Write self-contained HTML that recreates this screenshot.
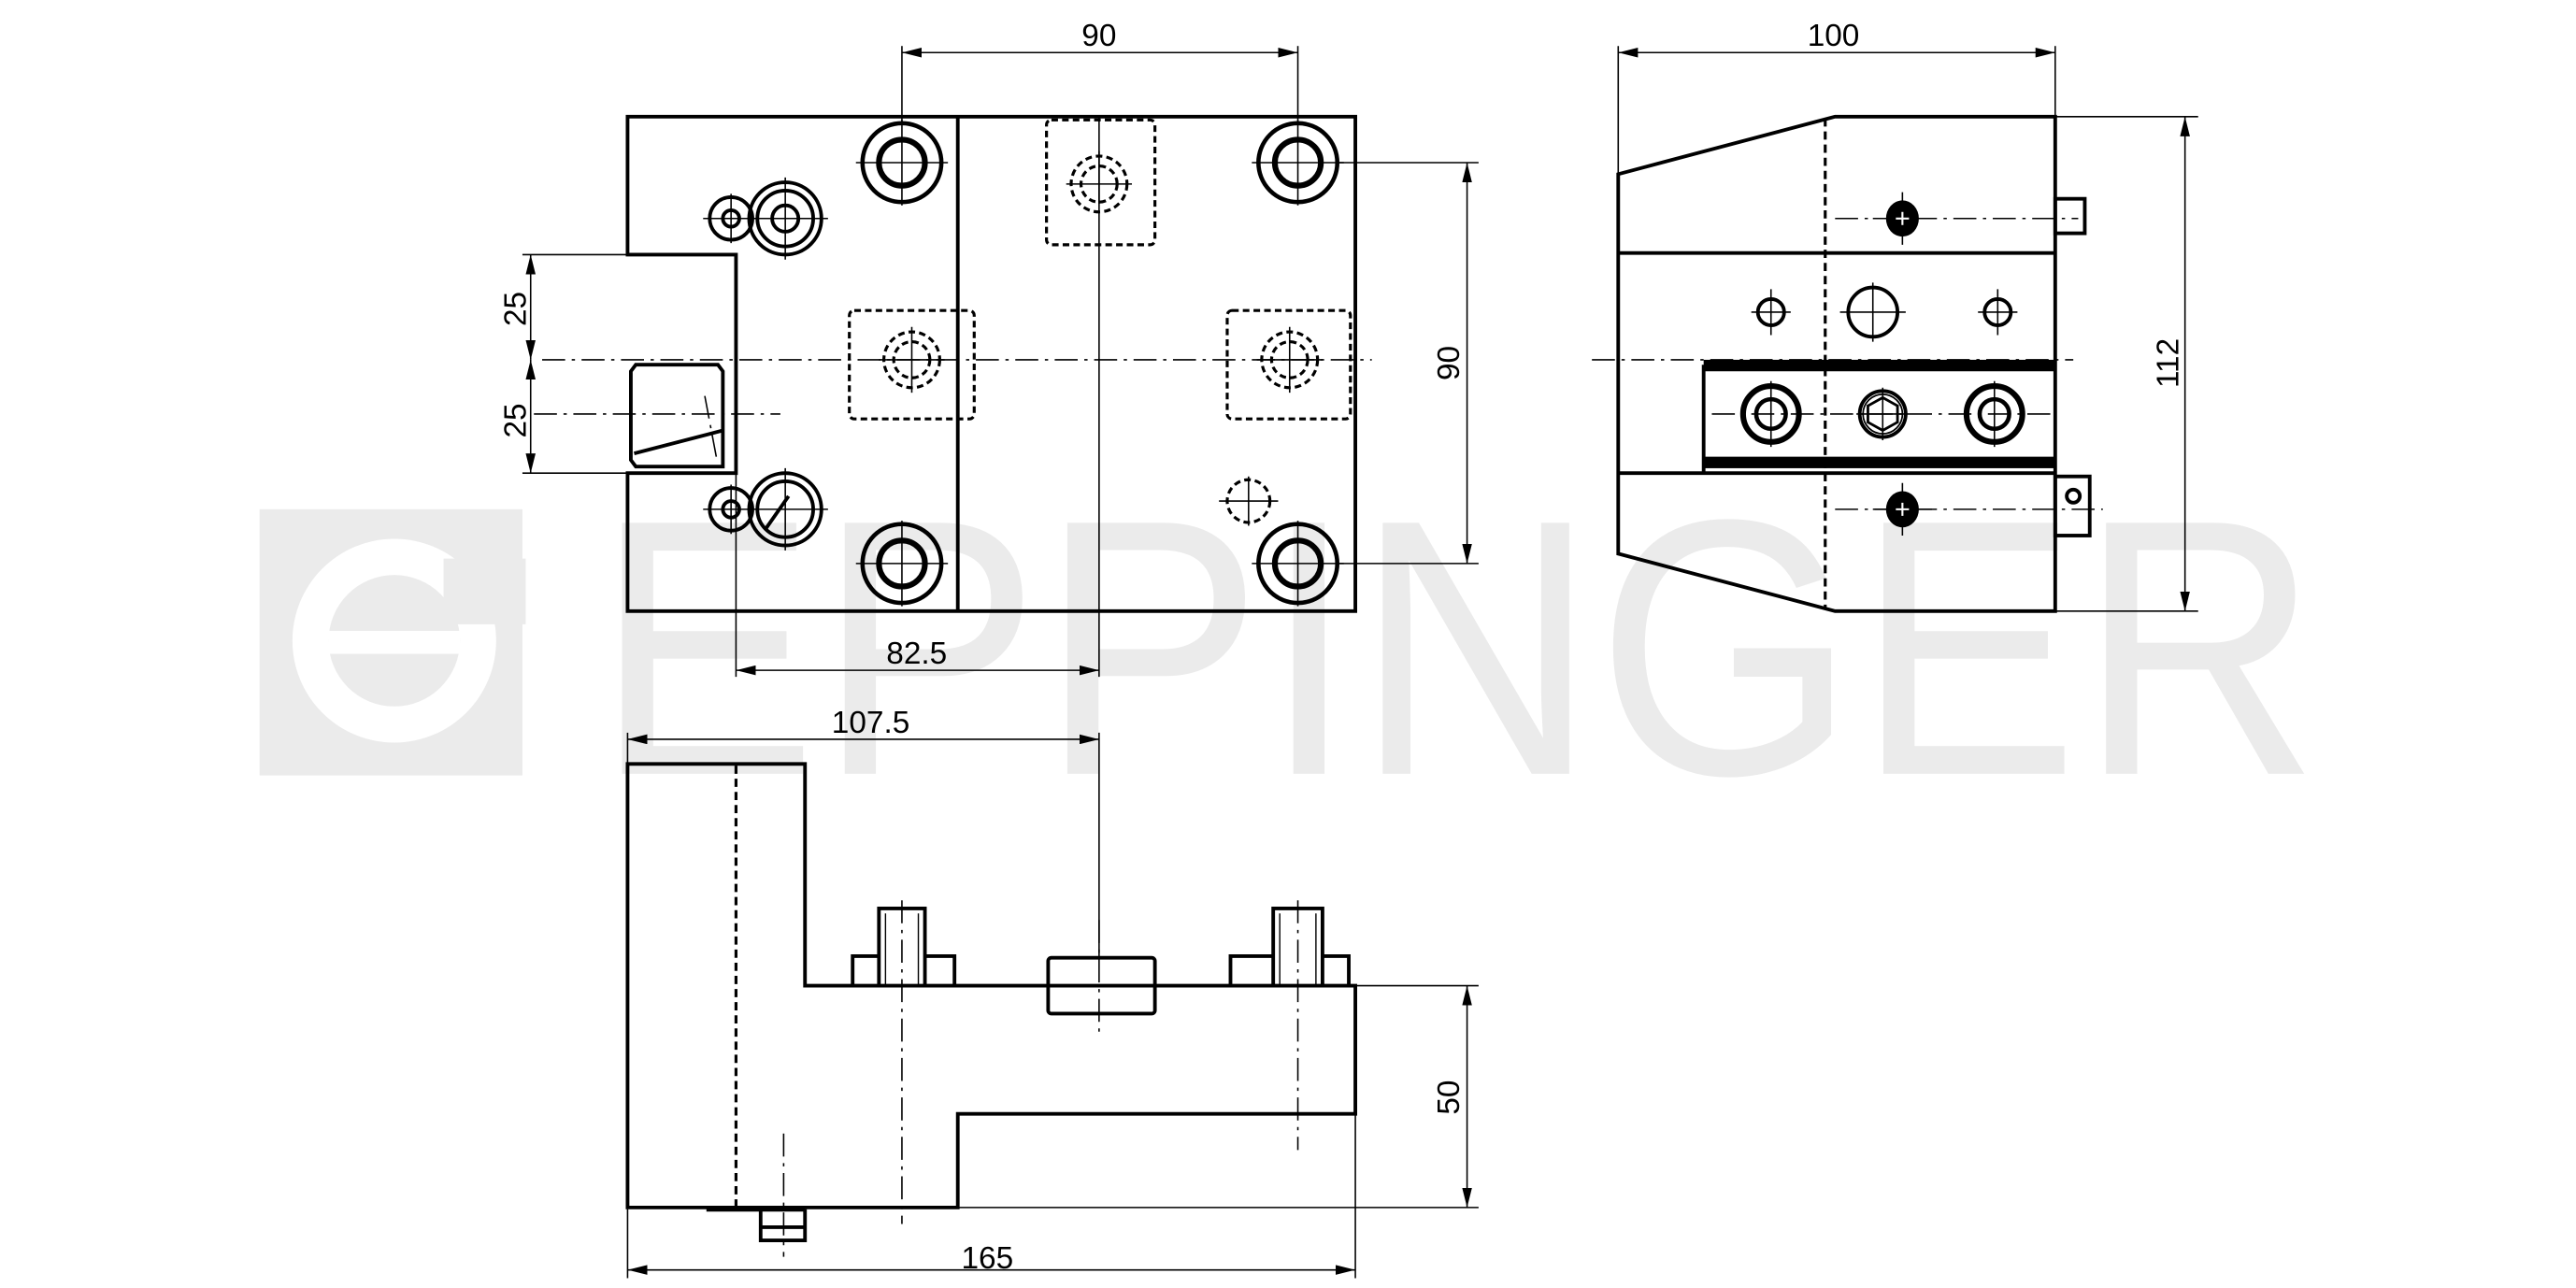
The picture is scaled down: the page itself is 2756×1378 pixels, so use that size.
<!DOCTYPE html>
<html><head><style>html,body{margin:0;padding:0;background:#fff}svg{display:block}</style></head><body>
<svg width="2756" height="1378" viewBox="0 0 1568 784" preserveAspectRatio="none" xmlns="http://www.w3.org/2000/svg" font-family="Liberation Sans, sans-serif">
<defs>
<marker id="a" viewBox="0 0 12 6" refX="12" refY="3" markerWidth="12" markerHeight="6" markerUnits="userSpaceOnUse" orient="auto-start-reverse"><path d="M0,0 L12,3 L0,6 z" fill="#000"/></marker>
</defs>
<!-- watermark -->
<g fill="#ebebeb">
<rect x="158" y="310" width="160" height="162"/>
<circle cx="240" cy="390" r="62" fill="#fff"/>
<circle cx="240" cy="390" r="40" fill="#ebebeb"/>
<rect x="200" y="384" width="80" height="14" fill="#fff"/>
<rect x="270" y="340" width="50" height="40" fill="#ebebeb"/>
<text x="362" y="471" font-size="222" textLength="1050" lengthAdjust="spacingAndGlyphs">EPPINGER</text>
</g>
<g fill="none" stroke="#000" stroke-width="2.2">
<!-- FRONT VIEW -->
<path d="M448,155 L382,155 L382,71 L825,71 L825,372 L382,372 L382,288 L448,288 Z"/>
<line x1="583" y1="71" x2="583" y2="372"/>
<path d="M387,222 L437,222 L440,226 L440,284 L387,284 L384,280 L384,226 Z"/>
<line x1="386" y1="276" x2="440" y2="262"/>
<g stroke-width="2.6">
<circle cx="549" cy="99" r="24"/><circle cx="549" cy="99" r="14" stroke-width="3.5"/>
<circle cx="790" cy="99" r="24"/><circle cx="790" cy="99" r="14" stroke-width="3.5"/>
<circle cx="549" cy="343" r="24"/><circle cx="549" cy="343" r="14" stroke-width="3.5"/>
<circle cx="790" cy="343" r="24"/><circle cx="790" cy="343" r="14" stroke-width="3.5"/>
</g>
<circle cx="445" cy="133" r="13"/><circle cx="445" cy="133" r="5"/>
<circle cx="478" cy="133" r="22"/><circle cx="478" cy="133" r="17"/><circle cx="478" cy="133" r="8"/>
<circle cx="445" cy="310" r="13"/><circle cx="445" cy="310" r="5"/>
<circle cx="478" cy="310" r="22"/><circle cx="478" cy="310" r="17"/><line x1="466" y1="322" x2="480" y2="302"/>
<g stroke-dasharray="4,2.5" stroke-width="1.8">
<rect x="637" y="73" width="66" height="76" rx="3"/>
<circle cx="669" cy="112" r="17"/><circle cx="669" cy="112" r="11"/>
<rect x="517" y="189" width="76" height="66" rx="3"/>
<circle cx="555" cy="219" r="17"/><circle cx="555" cy="219" r="11"/>
<rect x="747" y="189" width="75" height="66" rx="3"/>
<circle cx="785" cy="219" r="17"/><circle cx="785" cy="219" r="11"/>
<circle cx="760" cy="305" r="13"/>
</g>
<!-- SIDE VIEW -->
<path d="M985,106 L1117,71 L1251,71 L1251,372 L1117,372 L985,337 Z"/>
<line x1="1111" y1="72" x2="1111" y2="371" stroke-dasharray="5,3" stroke-width="1.8"/>
<line x1="985" y1="154" x2="1251" y2="154"/>
<line x1="985" y1="288" x2="1251" y2="288"/>
<line x1="1037" y1="222" x2="1037" y2="288"/>
<rect x="1037" y="219" width="214" height="7" fill="#000" stroke="none"/>
<rect x="1037" y="278" width="214" height="7" fill="#000" stroke="none"/>
<rect x="1251" y="121" width="18" height="21"/>
<rect x="1251" y="290" width="21" height="36"/>
<circle cx="1262" cy="302" r="4"/>
<circle cx="1078" cy="190" r="8"/><circle cx="1140" cy="190" r="15"/><circle cx="1216" cy="190" r="8"/>
<circle cx="1078" cy="252" r="17" stroke-width="3.5"/><circle cx="1078" cy="252" r="9" stroke-width="2.6"/>
<circle cx="1214" cy="252" r="17" stroke-width="3.5"/><circle cx="1214" cy="252" r="9" stroke-width="2.6"/>
<circle cx="1146" cy="252" r="14"/><circle cx="1146" cy="252" r="12" stroke-width="1"/>
<path d="M1146,242 L1155,247 L1155,257 L1146,262 L1137,257 L1137,247 Z" stroke-width="1.6"/>
<!-- BOTTOM VIEW -->
<path d="M382,465 L490,465 L490,600 L825,600 L825,678 L583,678 L583,735 L382,735 Z"/>
<line x1="448" y1="466" x2="448" y2="734" stroke-dasharray="5,3" stroke-width="1.8"/>
<path d="M519,600 L519,582 L535,582 M563,582 L581,582 L581,600"/>
<path d="M535,600 L535,553 L563,553 L563,600"/>
<line x1="539" y1="556" x2="539" y2="600" stroke-width="0.8"/>
<line x1="559" y1="556" x2="559" y2="600" stroke-width="0.8"/>
<path d="M749,600 L749,582 L775,582 M805,582 L821,582 L821,600"/>
<path d="M775,600 L775,553 L805,553 L805,600"/>
<line x1="779" y1="556" x2="779" y2="600" stroke-width="0.8"/>
<line x1="801" y1="556" x2="801" y2="600" stroke-width="0.8"/>
<rect x="638" y="583" width="65" height="34" rx="2"/>
<path d="M463,736 L463,755 L490,755 L490,736"/>
<line x1="463" y1="747" x2="490" y2="747"/>
<line x1="430" y1="736" x2="490" y2="736" stroke-width="3"/>
</g>
<!-- thin lines: center lines & dims -->
<g fill="none" stroke="#000" stroke-width="0.9">
<g stroke-dasharray="14,4,2,4">
<line x1="330" y1="219" x2="835" y2="219"/>
<line x1="969" y1="219" x2="1262" y2="219"/>
<line x1="325" y1="252" x2="475" y2="252"/>
<line x1="1042" y1="252" x2="1252" y2="252"/>
<line x1="1117" y1="133" x2="1265" y2="133"/>
<line x1="1117" y1="310" x2="1280" y2="310"/>
<line x1="549" y1="548" x2="549" y2="745"/>
<line x1="790" y1="548" x2="790" y2="700"/>
<line x1="669" y1="560" x2="669" y2="630"/>
<line x1="477" y1="690" x2="477" y2="765"/>
<line x1="429" y1="241" x2="436" y2="278"/>
</g>
<g>
<path d="M521,99 h56 M549,73 v52 M762,99 h56 M790,73 v52 M521,343 h56 M549,317 v52 M762,343 h56 M790,317 v52"/>
<path d="M428,133 h34 M445,118 v30 M452,133 h52 M478,108 v50 M428,310 h34 M445,295 v30 M452,310 h52 M478,285 v50"/>
<path d="M649,112 h40 M669,92 v32 M535,219 h40 M555,199 v40 M765,219 h40 M785,199 v40 M742,305 h36 M760,290 v30"/>
<path d="M1140,133 h36 M1158,117 v32 M1140,310 h36 M1158,294 v32"/>
<path d="M1066,190 h24 M1078,176 v28 M1120,190 h40 M1140,172 v36 M1204,190 h24 M1216,176 v28"/>
<path d="M1078,232 v40 M1214,232 v40 M1146,236 v32 M1130,252 h32"/>
<line x1="669" y1="71" x2="669" y2="412"/>
<line x1="448" y1="288" x2="448" y2="412"/>
</g>
<line x1="549" y1="28" x2="549" y2="75"/><line x1="790" y1="28" x2="790" y2="75"/>
<line x1="549" y1="32" x2="790" y2="32" marker-start="url(#a)" marker-end="url(#a)"/>
<line x1="814" y1="99" x2="900" y2="99"/><line x1="814" y1="343" x2="900" y2="343"/>
<line x1="893" y1="99" x2="893" y2="343" marker-start="url(#a)" marker-end="url(#a)"/>
<line x1="318" y1="155" x2="382" y2="155"/><line x1="318" y1="288" x2="382" y2="288"/>
<line x1="323" y1="155" x2="323" y2="219" marker-start="url(#a)" marker-end="url(#a)"/>
<line x1="323" y1="219" x2="323" y2="288" marker-start="url(#a)" marker-end="url(#a)"/>
<line x1="448" y1="408" x2="669" y2="408" marker-start="url(#a)" marker-end="url(#a)"/>
<line x1="985" y1="28" x2="985" y2="106"/><line x1="1251" y1="28" x2="1251" y2="71"/>
<line x1="985" y1="32" x2="1251" y2="32" marker-start="url(#a)" marker-end="url(#a)"/>
<line x1="1251" y1="71" x2="1338" y2="71"/><line x1="1251" y1="372" x2="1338" y2="372"/>
<line x1="1330" y1="71" x2="1330" y2="372" marker-start="url(#a)" marker-end="url(#a)"/>
<line x1="382" y1="446" x2="382" y2="465"/><line x1="669" y1="446" x2="669" y2="583"/>
<line x1="382" y1="450" x2="669" y2="450" marker-start="url(#a)" marker-end="url(#a)"/>
<line x1="825" y1="600" x2="900" y2="600"/><line x1="583" y1="735" x2="900" y2="735"/>
<line x1="893" y1="600" x2="893" y2="735" marker-start="url(#a)" marker-end="url(#a)"/>
<line x1="382" y1="736" x2="382" y2="778"/><line x1="825" y1="678" x2="825" y2="778"/>
<line x1="382" y1="773" x2="825" y2="773" marker-start="url(#a)" marker-end="url(#a)"/>
</g>
<g fill="#000"><ellipse cx="1158" cy="133" rx="10" ry="11"/><ellipse cx="1158" cy="310" rx="10" ry="11"/></g>
<g stroke="#fff" stroke-width="1.2"><path d="M1154,133 h8 M1158,129 v8 M1154,310 h8 M1158,306 v8"/></g>
<g font-size="19" fill="#000" text-anchor="middle">
<text x="669" y="28">90</text>
<text x="1116" y="28">100</text>
<text x="558" y="404">82.5</text>
<text x="530" y="446">107.5</text>
<text x="601" y="772">165</text>
<text transform="translate(888,221) rotate(-90)">90</text>
<text transform="translate(320,188) rotate(-90)">25</text>
<text transform="translate(320,256) rotate(-90)">25</text>
<text transform="translate(1326,221) rotate(-90)">112</text>
<text transform="translate(888,668) rotate(-90)">50</text>
</g>
</svg>
</body></html>
